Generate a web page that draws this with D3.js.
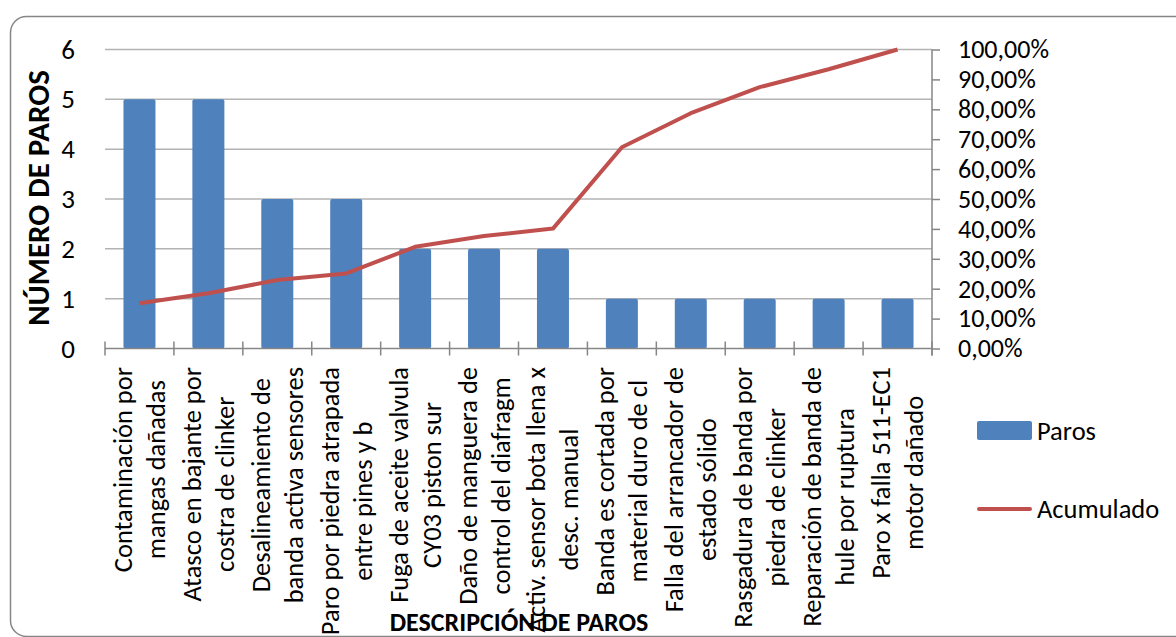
<!DOCTYPE html>
<html>
<head>
<meta charset="utf-8">
<script src="https://cdn.jsdelivr.net/npm/d3@7"></script>
<style>
  html, body { margin: 0; padding: 0; background: #fff; }
  svg { display: block; }
  text { font-family: Carlito, Lato, "Liberation Sans", sans-serif; fill: #000; }
</style>
</head>
<body>
<svg id="chart" width="1176" height="637"></svg>
<script>
// Pareto data: stoppage counts per cause and the cumulative share (%)
const categories = [
  ["Contaminación por", "mangas dañadas"],
  ["Atasco en bajante por", "costra de clinker"],
  ["Desalineamiento de", "banda activa sensores"],
  ["Paro por piedra atrapada", "entre pines y b"],
  ["Fuga de aceite valvula", "CY03 piston sur"],
  ["Daño de manguera de", "control del diafragm"],
  ["Activ. sensor bota llena x", "desc. manual"],
  ["Banda es cortada por", "material duro de cl"],
  ["Falla del arrancador de", "estado sólido"],
  ["Rasgadura de banda por", "piedra de clinker"],
  ["Reparación de banda de", "hule por ruptura"],
  ["Paro x falla 511-EC1", "motor dañado"]
];
const paros = [5, 5, 3, 3, 2, 2, 2, 1, 1, 1, 1, 1];
const acumulado = [15.1, 18.5, 22.9, 25.1, 34.0, 37.6, 40.1, 67.3, 78.7, 87.4, 93.4, 100];
const leftTicks = [0, 1, 2, 3, 4, 5, 6];
const rightTicks = [0, 10, 20, 30, 40, 50, 60, 70, 80, 90, 100];
const rightTickLabels = ["0,00%", "10,00%", "20,00%", "30,00%", "40,00%", "50,00%",
                         "60,00%", "70,00%", "80,00%", "90,00%", "100,00%"];

const svg = d3.select("#chart");
const plotL = 105, plotR = 932, plotT = 49.5, plotB = 348.5;

const x = d3.scaleBand().domain(d3.range(categories.length)).range([plotL, plotR]);
const y = d3.scaleLinear().domain([0, 6]).range([plotB, plotT]);
const y2 = d3.scaleLinear().domain([0, 100]).range([plotB, plotT]);

const BLUE = "#4f81bd", RED = "#c0504d", AXIS = "#868686", GRID = "#b3b3b3";
const FONT = "Carlito, Lato, sans-serif";

// Chart frame
svg.append("rect")
  .attr("x", 10.5).attr("y", 16.5).attr("width", 1190).attr("height", 620)
  .attr("rx", 16).attr("fill", "#fff").attr("stroke", AXIS).attr("stroke-width", 1.5);

// Horizontal gridlines
svg.append("g").selectAll("line").data(leftTicks.filter(d => d > 0)).join("line")
  .attr("x1", plotL).attr("x2", plotR)
  .attr("y1", d => y(d)).attr("y2", d => y(d))
  .attr("stroke", GRID).attr("stroke-width", 1.5);

// Left axis labels
const yAxis = d3.axisLeft(y).tickValues(leftTicks).tickFormat(d3.format("d"))
  .tickSize(0).tickPadding(0);
const gy = svg.append("g").attr("transform", `translate(${plotL - 30},0)`).call(yAxis);
gy.select(".domain").remove();
gy.selectAll("text").attr("font-size", 27).attr("fill", "#000")
  .style("font-family", FONT);

// Right axis (cumulative %)
const y2Axis = d3.axisRight(y2).tickValues(rightTicks)
  .tickFormat((d, i) => rightTickLabels[i]).tickSize(8).tickPadding(18).tickSizeOuter(0);
const gy2 = svg.append("g").attr("transform", `translate(${plotR},0)`).call(y2Axis);
gy2.select(".domain").attr("stroke", AXIS).attr("stroke-width", 1.5)
  .attr("d", `M0,${plotT}V${plotB + 7}`);
gy2.selectAll(".tick line").attr("stroke", AXIS).attr("stroke-width", 1.5);
gy2.selectAll("text").attr("font-size", 26).attr("fill", "#000")
  .style("font-family", FONT);

// Bars
svg.append("g").selectAll("rect").data(paros).join("rect")
  .attr("x", (d, i) => x(i) + x.bandwidth() / 2 - 16)
  .attr("width", 32)
  .attr("y", d => y(d))
  .attr("height", d => y(0) - y(d))
  .attr("rx", 2)
  .attr("fill", BLUE);

// X axis line with crossing tick marks at category boundaries
svg.append("line").attr("x1", plotL).attr("x2", plotR)
  .attr("y1", plotB).attr("y2", plotB)
  .attr("stroke", AXIS).attr("stroke-width", 1.5);
svg.append("g").selectAll("line").data(d3.range(categories.length + 1)).join("line")
  .attr("x1", i => plotL + i * x.step()).attr("x2", i => plotL + i * x.step())
  .attr("y1", plotB - 7).attr("y2", plotB + 7)
  .attr("stroke", AXIS).attr("stroke-width", 1.5);

// Cumulative line
const line = d3.line()
  .x((d, i) => x(i) + x.bandwidth() / 2)
  .y(d => y2(d));
svg.append("path").datum(acumulado)
  .attr("d", line)
  .attr("fill", "none").attr("stroke", RED).attr("stroke-width", 4)
  .attr("stroke-linejoin", "round");

// Category labels: two rotated lines, centered on each other, hanging from the axis
const labelTop = 367, lineOffset = 16.5, catFont = 26.5;
categories.forEach((lines, i) => {
  const cx = x(i) + x.bandwidth() / 2;
  const g = svg.append("g");
  const texts = lines.map((t, k) => g.append("text")
    .attr("font-size", catFont)
    .attr("text-anchor", "middle")
    .attr("dominant-baseline", "central")
    .text(t));
  const maxLen = d3.max(texts, t => t.node().getComputedTextLength());
  texts.forEach((t, k) => {
    const lx = cx + (k === 0 ? -lineOffset : lineOffset);
    const ly = labelTop + maxLen / 2;
    t.attr("transform", `translate(${lx},${ly}) rotate(-90)`);
  });
});

// Axis titles
svg.append("text")
  .attr("transform", `translate(38,198) rotate(-90)`)
  .attr("text-anchor", "middle").attr("dominant-baseline", "central")
  .attr("font-size", 31).attr("font-weight", "bold")
  .text("NÚMERO DE PAROS");

svg.append("text")
  .attr("x", 519).attr("y", 631)
  .attr("text-anchor", "middle")
  .attr("font-size", 26).attr("font-weight", "bold")
  .text("DESCRIPCIÓN DE PAROS");

// Legend
const legend = svg.append("g");
legend.append("rect").attr("x", 977).attr("y", 421).attr("width", 55).attr("height", 19)
  .attr("rx", 2).attr("fill", BLUE);
legend.append("text").attr("x", 1037).attr("y", 431).attr("dominant-baseline", "central")
  .attr("font-size", 26.5).text("Paros");
legend.append("line").attr("x1", 979).attr("x2", 1030).attr("y1", 509).attr("y2", 509)
  .attr("stroke", RED).attr("stroke-width", 4).attr("stroke-linecap", "round");
legend.append("text").attr("x", 1037).attr("y", 509).attr("dominant-baseline", "central")
  .attr("font-size", 26.5).text("Acumulado");
</script>
</body>
</html>
